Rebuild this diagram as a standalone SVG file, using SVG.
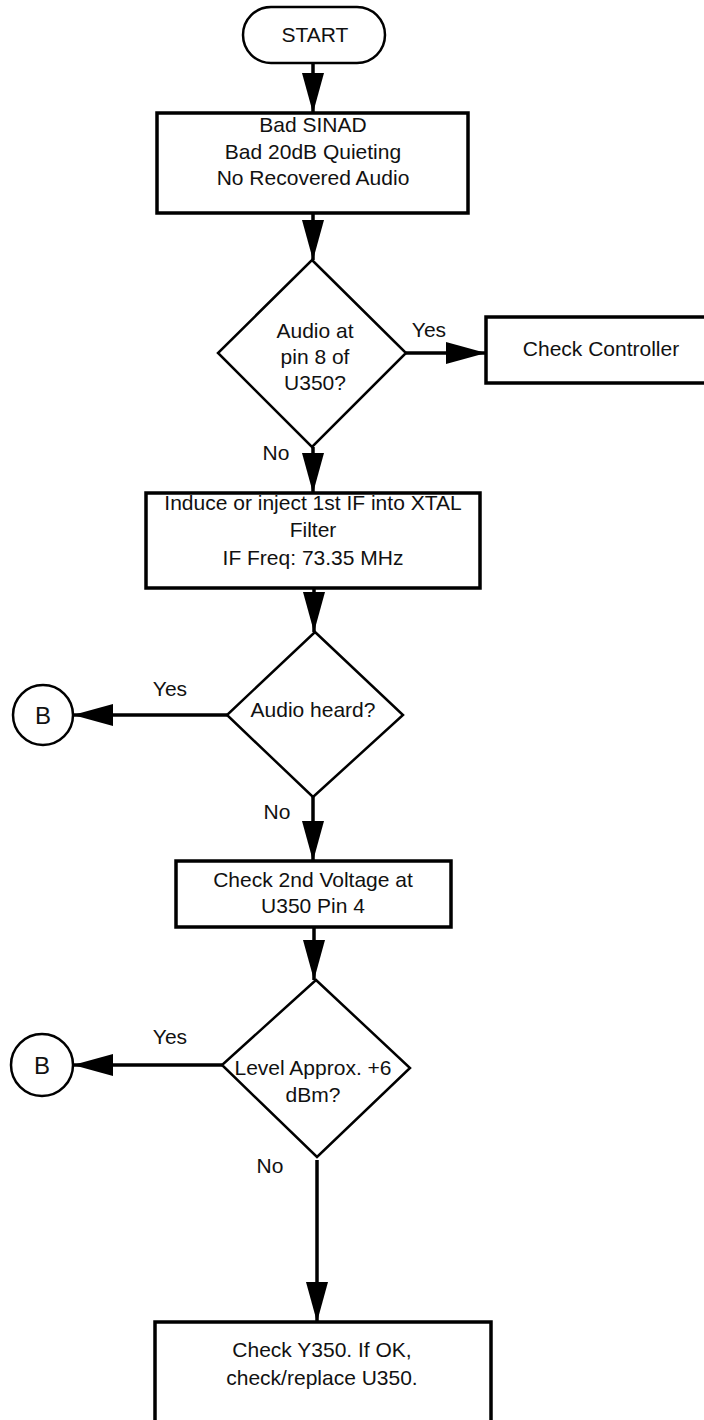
<svg xmlns="http://www.w3.org/2000/svg" width="704" height="1420" viewBox="0 0 704 1420">
<style>
text{font-family:"Liberation Sans",Arial,sans-serif;font-size:21px;fill:#111;text-anchor:middle}
.big{font-size:24px}
.box{fill:#fff;stroke:#000;stroke-width:3.5}
.dia{fill:#fff;stroke:#000;stroke-width:2.5}
.term{fill:#fff;stroke:#000;stroke-width:2.5}
.con{fill:none;stroke:#000;stroke-width:3.5}
</style>
<defs>
<marker id="ah" markerUnits="userSpaceOnUse" markerWidth="40" markerHeight="22" refX="40" refY="11" orient="auto">
<path d="M0,0 L40,11 L0,22 z" fill="#000"/>
</marker>
</defs>
<g id="connectors">
<line class="con" x1="313" y1="63" x2="313" y2="113" marker-end="url(#ah)"/>
<line class="con" x1="313" y1="213" x2="313" y2="260" marker-end="url(#ah)"/>
<line class="con" x1="406" y1="353" x2="486" y2="353" marker-end="url(#ah)"/>
<line class="con" x1="313" y1="447" x2="313" y2="493" marker-end="url(#ah)"/>
<line class="con" x1="314" y1="588" x2="314" y2="632" marker-end="url(#ah)"/>
<line class="con" x1="227" y1="715" x2="73" y2="715" marker-end="url(#ah)"/>
<line class="con" x1="313" y1="797" x2="313" y2="861" marker-end="url(#ah)"/>
<line class="con" x1="314" y1="927" x2="314" y2="980" marker-end="url(#ah)"/>
<line class="con" x1="222" y1="1065" x2="73" y2="1065" marker-end="url(#ah)"/>
<line class="con" x1="317" y1="1160" x2="317" y2="1322" marker-end="url(#ah)"/>
<text x="429" y="337">Yes</text>
<text x="276" y="460">No</text>
<text x="170" y="696">Yes</text>
<text x="277" y="819">No</text>
<text x="170" y="1044">Yes</text>
<text x="270" y="1173">No</text>
</g>
<g id="start">
<rect class="term" x="243" y="7" width="142" height="56" rx="28"/>
<text x="315" y="42">START</text>
</g>
<g id="box1">
<rect class="box" x="157" y="113" width="311" height="100"/>
<text x="313" y="132">Bad SINAD</text>
<text x="313" y="159">Bad 20dB Quieting</text>
<text x="313" y="185">No Recovered Audio</text>
</g>
<g id="dec1">
<polygon class="dia" points="312,260 406,353 312,447 218,353"/>
<text x="315" y="338">Audio at</text>
<text x="315" y="364">pin 8 of</text>
<text x="315" y="390">U350?</text>
</g>
<g id="controller">
<rect class="box" x="486" y="317" width="230" height="66"/>
<text x="601" y="356">Check Controller</text>
</g>
<g id="box2">
<rect class="box" x="146" y="493" width="334" height="95"/>
<text x="313" y="510">Induce or inject 1st IF into XTAL</text>
<text x="313" y="537">Filter</text>
<text x="313" y="565">IF Freq: 73.35 MHz</text>
</g>
<g id="dec2">
<polygon class="dia" points="315,632 403,715 313,797 227,715"/>
<text x="313" y="717">Audio heard?</text>
</g>
<g id="b1">
<circle class="term" cx="43" cy="715" r="30"/>
<text class="big" x="43" y="724">B</text>
</g>
<g id="box3">
<rect class="box" x="176" y="861" width="275" height="66"/>
<text x="313" y="887">Check 2nd Voltage at</text>
<text x="313" y="913">U350 Pin 4</text>
</g>
<g id="dec3">
<polygon class="dia" points="316,980 410,1068 317,1157 222,1065"/>
<text x="313" y="1075">Level Approx. +6</text>
<text x="313" y="1102">dBm?</text>
</g>
<g id="b2">
<circle class="term" cx="42" cy="1065" r="31"/>
<text class="big" x="42" y="1074">B</text>
</g>
<g id="box4">
<rect class="box" x="155" y="1322" width="336" height="100"/>
<text x="322" y="1357">Check Y350. If OK,</text>
<text x="322" y="1385">check/replace U350.</text>
</g>
</svg>
